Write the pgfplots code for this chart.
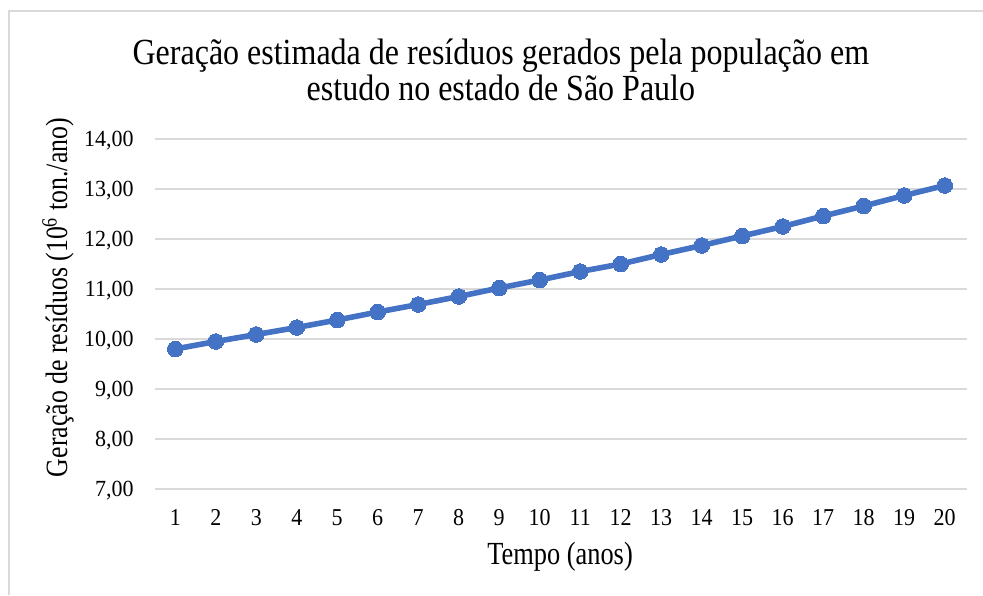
\documentclass[border=0pt]{standalone}
\usepackage{fontspec}
\setmainfont{Liberation Serif}
\usepackage{pgfplots}
\pgfplotsset{compat=1.18}
\definecolor{excelblue}{HTML}{4472C4}
\definecolor{gridgray}{HTML}{D9D9D9}
\begin{document}
\begin{tikzpicture}[x=0.5pt,y=0.5pt]
\useasboundingbox (0,0) rectangle (983,595);
\draw[gridgray, line width=1pt] (9,0) -- (9,584) -- (983,584);
\begin{axis}[
  at={(77.5pt,53pt)}, anchor=south west,
  scale only axis, width=406pt, height=175pt,
  xmin=0.5, xmax=20.55, ymin=7, ymax=14,
  xtick={1,...,20}, ytick={7,...,14},
  axis line style={draw=none},
  major tick length=0pt,
  ymajorgrids, grid style={gridgray, line width=1pt},
  /pgf/number format/assume math mode=true,
  y tick label style={/pgf/number format/fixed, /pgf/number format/fixed zerofill, /pgf/number format/precision=2, /pgf/number format/use comma},
  y tick label style={anchor=base east, xshift=-10.5pt, yshift=-3.6pt, inner sep=0pt, yscale=1.05, font=\fontsize{11}{13}\selectfont},
  x tick label style={anchor=base, yshift=-18.3pt, inner sep=0pt, yscale=1.1, font=\fontsize{11}{13}\selectfont},
  xlabel={Tempo (anos)},
  xlabel style={at={(rel axis cs:0.4988,-0.194)}, anchor=center, yscale=1.22, font=\fontsize{13.2}{15}\selectfont},
  ylabel={Geração de resíduos (10\textsuperscript{6} ton./ano)},
  ylabel style={at={(rel axis cs:-0.1195,0.547)}, anchor=center, yscale=1.2, font=\fontsize{12.9}{15}\selectfont},
  title={Geração estimada de resíduos gerados pela população em\\estudo no estado de São Paulo},
  title style={at={(rel axis cs:0.426,1.163)}, anchor=center, align=center, yscale=1.15, font=\fontsize{16}{13.5}\selectfont},
]
\addplot[excelblue, line width=2.8pt, mark=*, mark size=3.9pt, mark options={fill=excelblue, draw=excelblue, line width=0pt}] coordinates {
(1,9.80) (2,9.95) (3,10.09) (4,10.23) (5,10.38) (6,10.54) (7,10.69) (8,10.85) (9,11.02) (10,11.18)
(11,11.35) (12,11.50) (13,11.69) (14,11.87) (15,12.06) (16,12.25) (17,12.46) (18,12.66) (19,12.87) (20,13.07)
};
\end{axis}
\end{tikzpicture}
\end{document}
